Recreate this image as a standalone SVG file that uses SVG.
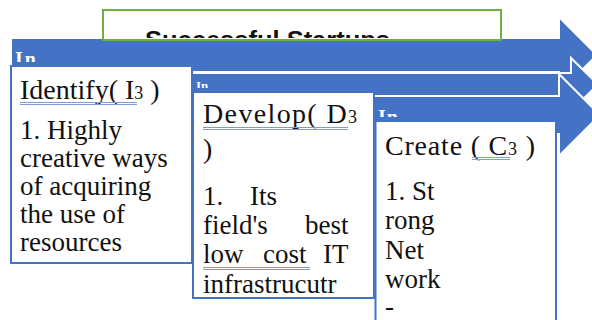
<svg xmlns="http://www.w3.org/2000/svg" width="592" height="320" viewBox="0 0 592 320">
<style>
.arrow{fill:#4472C4;stroke:#ffffff;stroke-width:2;stroke-linejoin:miter}
.box{fill:#ffffff;stroke:#4472C4;stroke-width:2}
.t{font-family:"Liberation Serif","Times New Roman",serif;font-size:27px;fill:#111111}
.h{font-family:"Liberation Serif","Times New Roman",serif;font-size:28px;fill:#111111}
.sub{font-size:18px}
.lbl{font-family:"Liberation Serif","Times New Roman",serif;font-weight:bold;fill:#ffffff}
.ul{stroke:#7f9bd6;stroke-width:1;fill:none}
.title{font-family:"Liberation Sans",Arial,sans-serif;font-weight:bold;font-size:24px;fill:#111111}
</style>
<defs>
<clipPath id="clipTitle"><rect x="104" y="11" width="396" height="27"/></clipPath>
<clipPath id="clipL1"><rect x="11" y="51" width="60" height="11"/></clipPath>
<clipPath id="clipL2"><rect x="193" y="80" width="40" height="8"/></clipPath>
<clipPath id="clipL3"><rect x="376" y="108" width="40" height="9"/></clipPath>
</defs>

<g id="arrows">
<path class="arrow" d="M11,38 H559 V17 L597,55 L559,93 V72 H11 Z"/>
<path class="arrow" d="M192,73 H571 V58 L598,84.5 L571,111 V96 H192 Z"/>
<path class="arrow" d="M374,96 H559 V74 L600,115 L559,156 V134 H374 Z"/>
<text class="lbl" x="15" y="66" font-size="20" letter-spacing="2" clip-path="url(#clipL1)">In</text>
<text class="lbl" x="196" y="90" font-size="13" clip-path="url(#clipL2)">In</text>
<text class="lbl" x="378" y="124" font-size="20" letter-spacing="1" clip-path="url(#clipL3)">In</text>
</g>

<g id="identify">
<rect class="box" x="11" y="66" width="181" height="197"/>
<text class="h" x="20" y="99">Identify( I<tspan class="sub">3</tspan> )</text>
<line class="ul" x1="20" y1="102.5" x2="137" y2="102.5"/>
<line class="ul" x1="20" y1="104.5" x2="137" y2="104.5"/>
<text class="t" x="20" y="139">1. Highly</text>
<text class="t" x="20" y="167">creative ways</text>
<text class="t" x="20" y="195">of acquiring</text>
<text class="t" x="20" y="223">the use of</text>
<text class="t" x="20" y="251">resources</text>
</g>

<g id="develop">
<rect class="box" x="193" y="92" width="181" height="206"/>
<text class="h" x="203" y="123" textLength="154" lengthAdjust="spacing">Develop( D<tspan class="sub">3</tspan></text>
<line class="ul" x1="203" y1="127.5" x2="348" y2="127.5"/>
<line class="ul" x1="203" y1="129.5" x2="348" y2="129.5"/>
<text class="h" x="203" y="158">)</text>
<text class="t" x="203" y="205">1.</text>
<text class="t" x="250" y="205">Its</text>
<text class="t" x="203" y="234">field's</text>
<text class="t" x="305" y="234">best</text>
<text class="t" x="203" y="263">low</text>
<text class="t" x="263" y="263">cost</text>
<text class="t" x="323" y="263">IT</text>
<line class="ul" x1="203" y1="267.5" x2="310" y2="267.5"/>
<line class="ul" x1="203" y1="269.5" x2="310" y2="269.5"/>
<text class="t" x="203" y="293">infrastrucutr</text>
</g>

<g id="create">
<rect class="box" x="375.5" y="121" width="180.5" height="220"/>
<text class="h" x="385" y="155" textLength="150" lengthAdjust="spacing">Create ( C<tspan class="sub">3</tspan> )</text>
<line class="ul" x1="472" y1="157.5" x2="510" y2="157.5"/>
<line class="ul" x1="472" y1="159.5" x2="510" y2="159.5"/>
<text class="t" x="385" y="200">1. St</text>
<text class="t" x="385" y="229">rong</text>
<text class="t" x="385" y="259">Net</text>
<text class="t" x="385" y="288">work</text>
<text class="t" x="385" y="315">-</text>
</g>

<g id="title">
<rect x="103" y="10" width="398" height="30" fill="#ffffff" stroke="#70AD47" stroke-width="2"/>
<text class="title" x="145" y="48" textLength="245" lengthAdjust="spacingAndGlyphs" clip-path="url(#clipTitle)">Successful Startups</text>
</g>
</svg>
